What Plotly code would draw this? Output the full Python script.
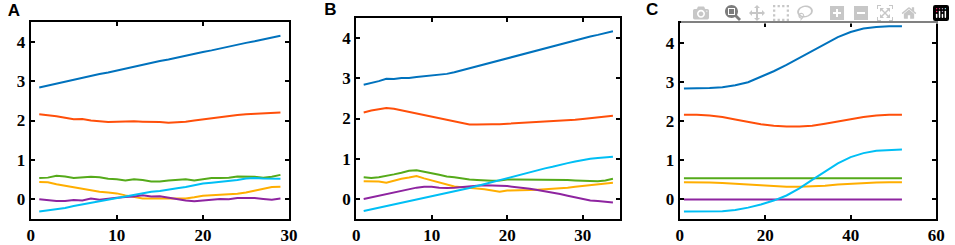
import plotly.graph_objects as go

# panel A
xa = list(range(1, 30))
a_blue = [2.84, 2.89, 2.93, 2.98, 3.03, 3.08, 3.13, 3.18, 3.22, 3.27, 3.32, 3.37, 3.41, 3.46, 3.51,
          3.55, 3.60, 3.65, 3.69, 3.74, 3.78, 3.83, 3.88, 3.92, 3.97, 4.01, 4.06, 4.11, 4.15]
a_orange = [2.16, 2.14, 2.11, 2.07, 2.03, 2.04, 2.00, 1.98, 1.96, 1.97, 1.98, 1.98, 1.97, 1.97, 1.96,
            1.94, 1.95, 1.97, 2.00, 2.03, 2.06, 2.08, 2.11, 2.14, 2.16, 2.17, 2.18, 2.19, 2.20]
a_green = [0.54, 0.55, 0.60, 0.58, 0.54, 0.55, 0.57, 0.56, 0.52, 0.51, 0.48, 0.51, 0.49, 0.45, 0.45,
           0.48, 0.50, 0.51, 0.48, 0.51, 0.54, 0.54, 0.55, 0.58, 0.58, 0.57, 0.55, 0.57, 0.62]
a_yellow = [0.44, 0.43, 0.38, 0.34, 0.31, 0.27, 0.23, 0.19, 0.17, 0.15, 0.10, 0.06, 0.02, 0.02, 0.02,
            0.03, 0.03, 0.02, 0.05, 0.09, 0.10, 0.11, 0.12, 0.14, 0.17, 0.22, 0.27, 0.31, 0.32]
a_purple = [0.00, -0.02, -0.04, -0.04, -0.02, -0.03, 0.02, -0.01, 0.02, 0.04, 0.06, 0.07, 0.10, 0.07, 0.08,
            0.04, 0.00, -0.03, -0.05, -0.03, -0.01, 0.01, 0.00, 0.03, 0.03, 0.03, 0.01, -0.01, 0.02]
a_cyan = [-0.31, -0.28, -0.26, -0.22, -0.17, -0.13, -0.08, -0.04, 0.00, 0.04, 0.08, 0.12, 0.16, 0.19, 0.21,
          0.25, 0.28, 0.31, 0.35, 0.40, 0.42, 0.44, 0.46, 0.49, 0.53, 0.54, 0.53, 0.52, 0.52]

# panel B
xb = list(range(1, 35))
b_blue = [2.84, 2.88, 2.93, 2.99, 2.98, 3.01, 3.01, 3.03, 3.05, 3.06, 3.08, 3.11, 3.15, 3.20, 3.25, 3.30, 3.35,
          3.40, 3.45, 3.50, 3.55, 3.60, 3.65, 3.70, 3.75, 3.80, 3.85, 3.90, 3.95, 4.00, 4.04, 4.08, 4.13, 4.17]
b_orange = [2.15, 2.20, 2.23, 2.26, 2.24, 2.20, 2.16, 2.12, 2.08, 2.04, 2.00, 1.96, 1.92, 1.88, 1.85, 1.85, 1.86,
            1.86, 1.86, 1.87, 1.88, 1.89, 1.90, 1.91, 1.92, 1.93, 1.94, 1.96, 1.97, 1.99, 2.01, 2.03, 2.05, 2.07]
b_green = [0.54, 0.52, 0.54, 0.57, 0.61, 0.65, 0.70, 0.71, 0.68, 0.64, 0.60, 0.56, 0.54, 0.51, 0.48, 0.47, 0.46,
           0.45, 0.46, 0.48, 0.48, 0.48, 0.48, 0.48, 0.47, 0.47, 0.47, 0.47, 0.46, 0.45, 0.44, 0.44, 0.46, 0.50]
b_yellow = [0.44, 0.44, 0.43, 0.40, 0.45, 0.50, 0.53, 0.57, 0.51, 0.46, 0.41, 0.36, 0.31, 0.29, 0.28, 0.26, 0.24,
            0.21, 0.18, 0.21, 0.21, 0.21, 0.22, 0.23, 0.24, 0.25, 0.27, 0.28, 0.30, 0.32, 0.34, 0.36, 0.38, 0.40]
b_purple = [0.00, 0.04, 0.08, 0.12, 0.16, 0.20, 0.24, 0.28, 0.30, 0.30, 0.28, 0.27, 0.28, 0.30, 0.32, 0.33, 0.34,
            0.34, 0.33, 0.32, 0.30, 0.28, 0.25, 0.22, 0.19, 0.16, 0.12, 0.08, 0.04, 0.00, -0.04, -0.05, -0.07, -0.09]
b_cyan = [-0.30, -0.26, -0.22, -0.18, -0.14, -0.10, -0.05, -0.01, 0.03, 0.07, 0.11, 0.14, 0.18, 0.22, 0.27, 0.32,
          0.37, 0.42, 0.47, 0.52, 0.57, 0.62, 0.67, 0.72, 0.76, 0.80, 0.85, 0.89, 0.93, 0.97, 1.00, 1.02, 1.03, 1.05]

# panel C (smooth curves, sampled every 3 steps)
xc = [1, 4, 7, 10, 13, 16, 19, 22, 25, 28, 31, 34, 37, 40, 43, 46, 49, 52]
c_blue = [2.83, 2.83, 2.84, 2.86, 2.91, 2.99, 3.12, 3.27, 3.43, 3.61, 3.80, 3.98, 4.14, 4.27, 4.36, 4.40, 4.42, 4.42]
c_orange = [2.16, 2.16, 2.14, 2.10, 2.04, 1.98, 1.92, 1.88, 1.86, 1.86, 1.88, 1.93, 1.99, 2.05, 2.10, 2.14, 2.16, 2.16]
c_green = [0.54] * 18
c_yellow = [0.44, 0.44, 0.43, 0.42, 0.40, 0.37, 0.35, 0.33, 0.32, 0.32, 0.33, 0.35, 0.38, 0.40, 0.42, 0.43, 0.44, 0.44]
c_purple = [0.0] * 18
c_cyan = [-0.31, -0.31, -0.31, -0.30, -0.27, -0.21, -0.13, -0.03, 0.10, 0.28, 0.50, 0.72, 0.92, 1.08, 1.18, 1.24, 1.26, 1.27]

panel_letters = ["A", "B", "C"]

colors = ["#0072BD", "#FF4F0A", "#55AA1A", "#FFAE00", "#8E24A0", "#00BFF5"]
panels = [
    (xa, [a_blue, a_orange, a_green, a_yellow, a_purple, a_cyan]),
    (xb, [b_blue, b_orange, b_green, b_yellow, b_purple, b_cyan]),
    (xc, [c_blue, c_orange, c_green, c_yellow, c_purple, c_cyan]),
]

W, H = 955, 245
xdom = [(27, 289), (357, 625), (685, 945)]
ydom = [(22, 219), (18, 219), (23, 219)]
xranges = [[0, 30], [0, 35], [0, 60]]
xdticks = [10, 10, 20]
letter_pos = [(10, 12), (331, 11), (657, 11)]   # pixel centres of the panel letters

fig = go.Figure()
for i, (x, series) in enumerate(panels):
    n = "" if i == 0 else str(i + 1)
    for ys, c in zip(series, colors):
        fig.add_trace(go.Scatter(x=x, y=ys, mode="lines", line=dict(color=c, width=2),
                                 xaxis="x" + n, yaxis="y" + n))

# panel letters on an invisible full-page overlay axis (pixel units)
fig.add_trace(go.Scatter(x=[p[0] for p in letter_pos], y=[p[1] for p in letter_pos], text=panel_letters,
                         mode="text", textposition="middle center",
                         textfont=dict(family="Liberation Sans", size=17, color="black", weight="bold"),
                         xaxis="x4", yaxis="y4"))

common = dict(showline=True, linecolor="black", linewidth=2, mirror="ticks", ticks="inside",
              ticklen=4, tickwidth=1.5, tickcolor="black", showgrid=False, zeroline=False,
              tickfont=dict(family="Liberation Serif", size=17, color="black", weight="bold"))
# transparent plot background so the full-page overlay does not hide the panels
lay = dict(width=W, height=H, margin=dict(l=0, r=0, t=0, b=0), showlegend=False,
           plot_bgcolor="rgba(0,0,0,0)", paper_bgcolor="white")
for i in range(3):
    n = "" if i == 0 else str(i + 1)
    xa_ = dict(common, domain=[xdom[i][0] / W, xdom[i][1] / W], range=xranges[i], tick0=0, dtick=xdticks[i])
    ya_ = dict(common, domain=[1 - ydom[i][1] / H, 1 - ydom[i][0] / H], range=[-0.5, 4.5], tick0=0, dtick=1)
    if i > 0:
        xa_["anchor"] = "y" + n
        ya_["anchor"] = "x" + n
    lay["xaxis" + n] = xa_
    lay["yaxis" + n] = ya_
lay["xaxis4"] = dict(domain=[0, 1], range=[0, W], visible=False, anchor="y4")
lay["yaxis4"] = dict(domain=[0, 1], range=[H, 0], visible=False, anchor="x4")
fig.update_layout(**lay)

fig.write_html("out.html", post_script="document.body.style.margin='0';")
